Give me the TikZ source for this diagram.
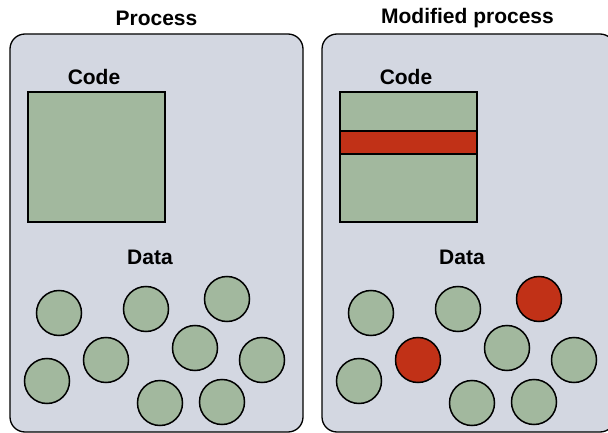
\documentclass[tikz,border=0pt]{standalone}
\usepackage{fontspec}
\setmainfont{Liberation Sans}
\usepackage{tikz}
\usetikzlibrary{positioning}
\definecolor{panelgray}{RGB}{211,215,225}
\definecolor{codegreen}{RGB}{162,184,158}
\definecolor{patchred}{RGB}{193,49,23}

\begin{document}
\begin{tikzpicture}[
  x=1pt, y=-1pt,
  font=\fontsize{21}{24}\selectfont\bfseries,
  panel/.style={draw, line width=1.3pt, fill=panelgray, rounded corners=15pt, minimum width=293pt, minimum height=398pt, inner sep=0pt},
  codebox/.style={draw, line width=1.5pt, fill=codegreen, minimum width=137pt, minimum height=130pt, inner sep=0pt},
  patch/.style={draw, line width=1.5pt, fill=patchred, minimum width=137pt, minimum height=23pt, inner sep=0pt},
  datum/.style={circle, draw, line width=1.5pt, fill=codegreen, minimum size=45pt, inner sep=0pt},
  bad/.style={datum, fill=patchred},
  lbl/.style={inner sep=0pt}
]
\clip (0,0) rectangle (608,433);
% original process
\node[panel] (proc) at (156.5,233) {};
\node[lbl] (proct) at (156.5,18) {Process};
\node[lbl] (codet) at (94,77) {Code};
\node[codebox] (code) at (96.5,157) {};
\node[lbl] (datat) at (150,257) {Data};
\node[datum] (d1) at (59,313) {};
\node[datum] (d2) at (146,309) {};
\node[datum] (d3) at (227,299) {};
\node[datum] (d4) at (106,360) {};
\node[datum] (d5) at (195,348) {};
\node[datum] (d6) at (262,360) {};
\node[datum] (d7) at (47,381) {};
\node[datum] (d8) at (160,403) {};
\node[datum] (d9) at (222,402) {};
% modified process
\node[panel] (mod) at (468.5,233) {};
\node[lbl] (modt) at (467.5,18) {Modified process};
\node[lbl] (mcodet) at (406,77) {Code};
\node[codebox] (mcode) at (408.5,157) {};
\node[patch] (mpatch) at (408.5,142.5) {};
\node[lbl] (mdatat) at (462,257) {Data};
\node[datum] (m1) at (371,313) {};
\node[datum] (m2) at (458,309) {};
\node[bad] (m3) at (539,299) {};
\node[bad] (m4) at (418,360) {};
\node[datum] (m5) at (507,348) {};
\node[datum] (m6) at (574,360) {};
\node[datum] (m7) at (359,381) {};
\node[datum] (m8) at (472,403) {};
\node[datum] (m9) at (534,402) {};
\end{tikzpicture}
\end{document}
